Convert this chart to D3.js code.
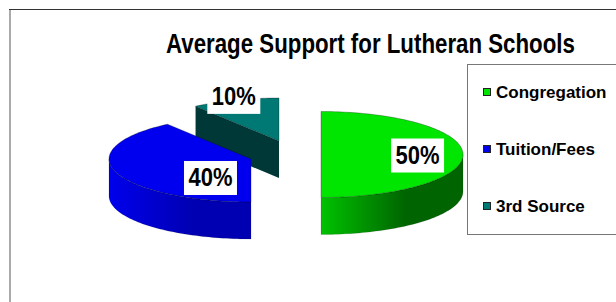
<!DOCTYPE html>
<html>
<head>
<meta charset="utf-8">
<script src="https://cdn.jsdelivr.net/npm/d3@7"></script>
<style>
  body { margin: 0; background: #fff; }
  svg { display: block; font-family: 'Liberation Sans', Arial, sans-serif; font-weight: bold; }
</style>
</head>
<body>
<div id="chart"></div>
<script>
const title = 'Average Support for Lutheran Schools'
const categories = ['Congregation', 'Tuition/Fees', '3rd Source']
const values = [50, 40, 10]
const labels = values.map(d => d + '%')

const width = 616
const height = 302

// colours per slice: top face, side start, side end
const topColors = ['#00e600', '#0000ee', '#007873']
const sideColors = [['#00c200', '#006400'], ['#0000ec', '#0000b2'], ['#003837', '#003837']]
const legendColors = ['#00e600', '#0000ee', '#007873']

// pie geometry
const base = [285, 154.5]
const rx = 142
const ry = 43
const depth = 37
// explode offset of each slice from the base centre
const explode = [[36, 0], [-34, 4.5], [-6, -13.5]]
// label placement: fraction of radius along mid angle, extra vertical shift
const labelRadius = [0.68, 0.3, 1.03]
const labelShift = [1, 15, -2]

const svg = d3.select('#chart').append('svg')
  .attr('width', width)
  .attr('height', height)

const defs = svg.append('defs')

// frame
svg.append('line')
  .attr('x1', 9).attr('x2', width).attr('y1', 9.5).attr('y2', 9.5)
  .attr('stroke', '#333').attr('stroke-width', 1)
svg.append('line')
  .attr('x1', 10).attr('x2', 10).attr('y1', 10).attr('y2', height)
  .attr('stroke', '#aaa').attr('stroke-width', 2)

// title is narrow in the original, squeeze it horizontally
const titleText = svg.append('text')
  .attr('font-size', 27)
  .attr('fill', '#000')
  .text(title)
const tw = titleText.node().getComputedTextLength()
titleText.attr('transform', 'translate(166,53) scale(' + (409 / tw) + ',1)')

const pie = d3.pie().sort(null).value(d => d)
const arcs = pie(values)

function pt(c, a, dz = 0) {
  return [c[0] + rx * Math.sin(a), c[1] - ry * Math.cos(a) + dz]
}

function arcPts(c, a0, a1, dz = 0) {
  const n = Math.max(2, Math.ceil(Math.abs(a1 - a0) * 40))
  return d3.range(n + 1).map(i => pt(c, a0 + (a1 - a0) * i / n, dz))
}

const line = d3.line()

const slices = arcs.map((d, i) => ({
  ...d,
  i,
  c: [base[0] + explode[i][0], base[1] + explode[i][1]]
}))

const plot = svg.append('g').attr('class', 'g-plot')

slices
  .slice()
  .sort((a, b) => a.c[1] - b.c[1])
  .forEach(d => {
    const g = plot.append('g').attr('class', 'slice slice-' + d.i)
    const a0 = d.startAngle
    const a1 = d.endAngle

    // radial cut face at start angle
    if (Math.sin(a0) < -1e-6) {
      const p = pt(d.c, a0)
      g.append('path')
        .attr('d', line([d.c, p, [p[0], p[1] + depth], [d.c[0], d.c[1] + depth]]) + 'Z')
        .attr('fill', sideColors[d.i][0])
    }
    // radial cut face at end angle
    if (Math.sin(a1) > 1e-6) {
      const p = pt(d.c, a1)
      g.append('path')
        .attr('d', line([d.c, p, [p[0], p[1] + depth], [d.c[0], d.c[1] + depth]]) + 'Z')
        .attr('fill', sideColors[d.i][1])
    }

    // outer curved side, front half only
    const s = Math.max(a0, Math.PI / 2)
    const e = Math.min(a1, Math.PI * 3 / 2)
    if (s < e) {
      const top = arcPts(d.c, s, e)
      const bottom = arcPts(d.c, e, s, depth)
      const xs = top.map(p => p[0])
      const gid = 'side-' + d.i
      const grad = defs.append('linearGradient')
        .attr('id', gid)
        .attr('gradientUnits', 'userSpaceOnUse')
        .attr('x1', d3.min(xs)).attr('x2', d3.max(xs))
        .attr('y1', 0).attr('y2', 0)
      grad.append('stop').attr('offset', 0).attr('stop-color', sideColors[d.i][0])
      grad.append('stop').attr('offset', 0.6).attr('stop-color', sideColors[d.i][1])
      grad.append('stop').attr('offset', 1).attr('stop-color', sideColors[d.i][1])
      g.append('path')
        .attr('d', line(top.concat(bottom)) + 'Z')
        .attr('fill', 'url(#' + gid + ')')
        .attr('stroke', 'rgba(0,0,0,0.25)')
        .attr('stroke-width', 0.5)
    }

    // top face
    g.append('path')
      .attr('d', line([d.c].concat(arcPts(d.c, a0, a1), [d.c])) + 'Z')
      .attr('fill', topColors[d.i])
      .attr('stroke', 'rgba(0,0,0,0.45)')
      .attr('stroke-width', 0.6)
  })

// data labels
const labelG = svg.append('g').attr('class', 'labels')
slices.forEach(d => {
  const mid = (d.startAngle + d.endAngle) / 2
  const f = labelRadius[d.i]
  const lx = d.c[0] + rx * f * Math.sin(mid)
  const ly = d.c[1] - ry * f * Math.cos(mid) + labelShift[d.i]
  labelG.append('rect')
    .attr('x', lx - 26.5)
    .attr('y', ly - 17)
    .attr('width', 53)
    .attr('height', 34)
    .attr('fill', '#fff')
  const t = labelG.append('text')
    .attr('text-anchor', 'middle')
    .attr('font-size', 25)
    .attr('fill', '#000')
    .text(labels[d.i])
  const w = t.node().getComputedTextLength()
  t.attr('transform', 'translate(' + lx + ',' + (ly + 8.5) + ') scale(' + (44 / w) + ',1)')
})

// legend
const legend = svg.append('g').attr('class', 'legend')
legend.append('rect')
  .attr('x', 467.5)
  .attr('y', 64.5)
  .attr('width', 200)
  .attr('height', 170)
  .attr('fill', '#fff')
  .attr('stroke', '#777')
  .attr('stroke-width', 1)

const ly = d3.scalePoint().domain(categories).range([92, 206])

const item = legend.selectAll('.item')
  .data(categories)
  .enter()
  .append('g')
  .attr('class', 'item')
  .attr('transform', d => 'translate(0,' + ly(d) + ')')

item.append('rect')
  .attr('x', 483.5)
  .attr('y', -3.5)
  .attr('width', 7)
  .attr('height', 7)
  .attr('fill', (d, i) => legendColors[i])
  .attr('stroke', '#222')
  .attr('stroke-width', 1)

item.append('text')
  .attr('x', 496)
  .attr('y', 6)
  .attr('font-size', 17)
  .attr('fill', '#000')
  .text(d => d)
</script>
</body>
</html>
